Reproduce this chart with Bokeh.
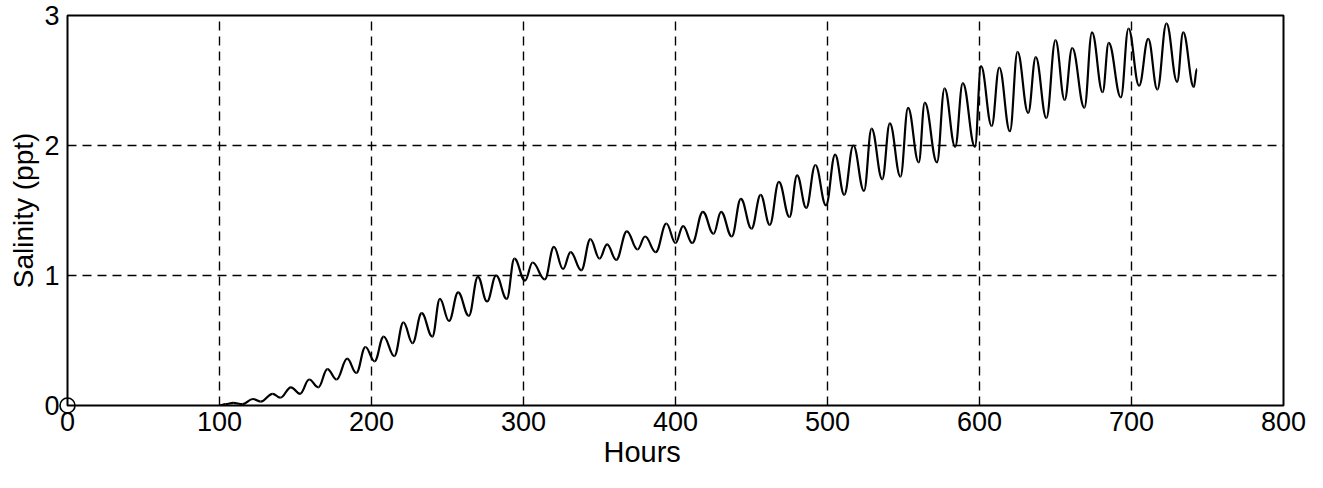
from bokeh.plotting import figure
from bokeh.models import Range1d, FixedTicker, Title
from bokeh.embed import file_html
from bokeh.resources import INLINE

# Salinity record: successive tidal highs / lows
hours = [100, 104, 109, 115, 122, 127, 135, 140, 147, 153, 159, 165, 171, 177, 184, 190,
         196, 202, 208, 215, 221, 227, 233, 240, 245, 251, 257, 264, 270, 276, 282, 289,
         294, 301, 306, 314, 320, 326, 331, 338, 344, 350, 355, 361, 368, 375, 380, 387,
         394, 400, 405, 411, 418, 425, 430, 437, 443, 450, 456, 462, 468, 475, 480, 486,
         492, 499, 505, 511, 517, 524, 529, 536, 541, 548, 553, 560, 564, 572, 577, 584,
         589, 597, 601, 608, 613, 620, 625, 632, 637, 644, 650, 656, 661, 669, 674, 681,
         685, 693, 698, 705, 711, 717, 723, 730, 734, 741, 743]
salinity = [0.00, 0.01, 0.02, 0.01, 0.05, 0.03, 0.09, 0.06, 0.14, 0.09, 0.20, 0.14, 0.28, 0.20,
            0.36, 0.25, 0.45, 0.34, 0.53, 0.38, 0.64, 0.48, 0.71, 0.53, 0.82, 0.65, 0.87, 0.69,
            0.99, 0.80, 1.00, 0.82, 1.13, 0.96, 1.10, 0.97, 1.22, 1.05, 1.18, 1.04, 1.28, 1.13,
            1.24, 1.12, 1.34, 1.20, 1.30, 1.18, 1.40, 1.25, 1.38, 1.25, 1.49, 1.32, 1.49, 1.30,
            1.59, 1.36, 1.62, 1.39, 1.72, 1.45, 1.77, 1.52, 1.85, 1.54, 1.93, 1.62, 2.00, 1.65,
            2.13, 1.74, 2.17, 1.76, 2.29, 1.87, 2.33, 1.87, 2.44, 1.99, 2.48, 1.99, 2.61, 2.15,
            2.60, 2.11, 2.72, 2.25, 2.68, 2.21, 2.81, 2.35, 2.75, 2.29, 2.87, 2.41, 2.79, 2.37,
            2.90, 2.46, 2.82, 2.43, 2.94, 2.49, 2.87, 2.45, 2.59]

start_hours = [0]
start_salinity = [0]

x_ticks = [0, 100, 200, 300, 400, 500, 600, 700, 800]
y_ticks = [0, 1, 2, 3]

FONT = "Liberation Sans"

p = figure(width=1313, height=480, output_backend="svg", toolbar_location=None,
           x_range=Range1d(0, 800), y_range=Range1d(0, 3),
           min_border_left=67, min_border_right=30, min_border_top=15, min_border_bottom=75,
           y_axis_label="Salinity (ppt)")
p.background_fill_color = "white"
p.border_fill_color = "white"
p.outline_line_color = "black"
p.outline_line_width = 2

for ax in (p.xaxis[0], p.yaxis[0]):
    ax.axis_line_color = None
    ax.major_tick_in = 0
    ax.major_tick_out = 0
    ax.minor_tick_line_color = None
    ax.major_label_text_font = FONT
    ax.major_label_text_font_size = "27px"
    ax.major_label_text_color = "black"
    ax.axis_label_text_font = FONT
    ax.axis_label_text_font_size = "28px"
    ax.axis_label_text_font_style = "normal"
    ax.axis_label_text_color = "black"

p.xaxis.ticker = FixedTicker(ticks=x_ticks)
p.yaxis.ticker = FixedTicker(ticks=y_ticks)
p.xaxis.major_label_standoff = 6
p.yaxis.major_label_standoff = 8
p.yaxis.axis_label_standoff = 2

# x-axis title, set a little left of centre as in the original
p.add_layout(Title(text="Hours", align="left", offset=536, standoff=0,
                   text_font=FONT, text_font_size="29px", text_font_style="normal",
                   text_color="black"), "below")

for g in (p.xgrid[0], p.ygrid[0]):
    g.grid_line_color = "black"
    g.grid_line_width = 1.4
    g.grid_line_dash = "9 6"
    g.grid_line_alpha = 1.0

# smooth tidal curve: one cubic segment between consecutive highs and lows
x0 = hours[:-1]
x1 = hours[1:]
y0 = salinity[:-1]
y1 = salinity[1:]
cx0 = [a + 0.4 * (b - a) for a, b in zip(x0, x1)]
cx1 = [b - 0.4 * (b - a) for a, b in zip(x0, x1)]
p.bezier(x0=x0, y0=y0, x1=x1, y1=y1, cx0=cx0, cy0=y0, cx1=cx1, cy1=y1,
         line_color="black", line_width=2.2)

# open start marker at the origin, on the overlay level so that it is not clipped
p.scatter(start_hours, start_salinity, marker="circle", size=15,
          fill_color="white", fill_alpha=0.0, line_color="black", line_width=1.6,
          level="overlay")

open("out.html", "w").write(file_html(p, INLINE))
